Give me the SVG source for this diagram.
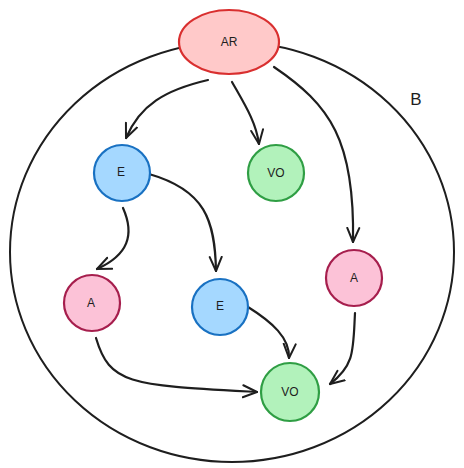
<svg xmlns="http://www.w3.org/2000/svg" width="464" height="468" viewBox="0 0 464 468">
<defs>
<marker id="ah" viewBox="0 0 16 16" refX="15" refY="8" markerWidth="16" markerHeight="16" markerUnits="userSpaceOnUse" orient="auto">
<path d="M1,2 L15,8 L1,14" fill="none" stroke="#1e1e1e" stroke-width="2" stroke-linecap="round" stroke-linejoin="round"/>
</marker>
<style>
text{font-family:"Liberation Sans",Arial,sans-serif;font-size:12px;fill:#1e1e1e;text-anchor:middle;dominant-baseline:central}
.e{fill:#a5d8ff;stroke:#1971c2;stroke-width:2.2}
.v{fill:#b2f2bb;stroke:#2f9e44;stroke-width:2.2}
.a{fill:#fcc2d7;stroke:#a61e4d;stroke-width:2.2}
.r{fill:#ffc9c9;stroke:#d92f2f;stroke-width:2.2}
.c path{fill:none;stroke:#1e1e1e;stroke-width:2.2;stroke-linecap:round;marker-end:url(#ah)}
</style>
</defs>
<rect width="464" height="468" fill="#ffffff"/>
<g id="B">
<ellipse cx="232" cy="252" rx="222" ry="210" fill="none" stroke="#1e1e1e" stroke-width="2"/>
<text x="416" y="99" style="font-size:17px">B</text>
</g>
<g class="c" id="connectors">
<path d="M208,80 C165,90 140,105 126,138"/>
<path d="M232,82 C245,105 256,122 259,144"/>
<path d="M274,67 C330,105 355,140 353,242"/>
<path d="M149,174 C205,190 215,220 216,271"/>
<path d="M123,208 C135,235 128,255 97,269"/>
<path d="M248,307 C272,322 290,338 289,358"/>
<path d="M355,313 C353,350 355,365 330,384"/>
<path d="M96,338 C110,385 130,385 257,392"/>
</g>
<g id="AR"><ellipse class="r" cx="229" cy="42" rx="50" ry="32"/><text x="229" y="42">AR</text></g>
<g id="E1"><circle class="e" cx="122" cy="173" r="28"/><text x="121" y="172">E</text></g>
<g id="VO1"><circle class="v" cx="276" cy="173" r="28"/><text x="276" y="173">VO</text></g>
<g id="A1"><circle class="a" cx="92" cy="303" r="28"/><text x="91" y="303">A</text></g>
<g id="E2"><circle class="e" cx="220" cy="307" r="28"/><text x="220" y="306">E</text></g>
<g id="A2"><circle class="a" cx="354" cy="278" r="28"/><text x="354" y="278">A</text></g>
<g id="VO2"><circle class="v" cx="290" cy="392" r="29"/><text x="290" y="392">VO</text></g>
</svg>
